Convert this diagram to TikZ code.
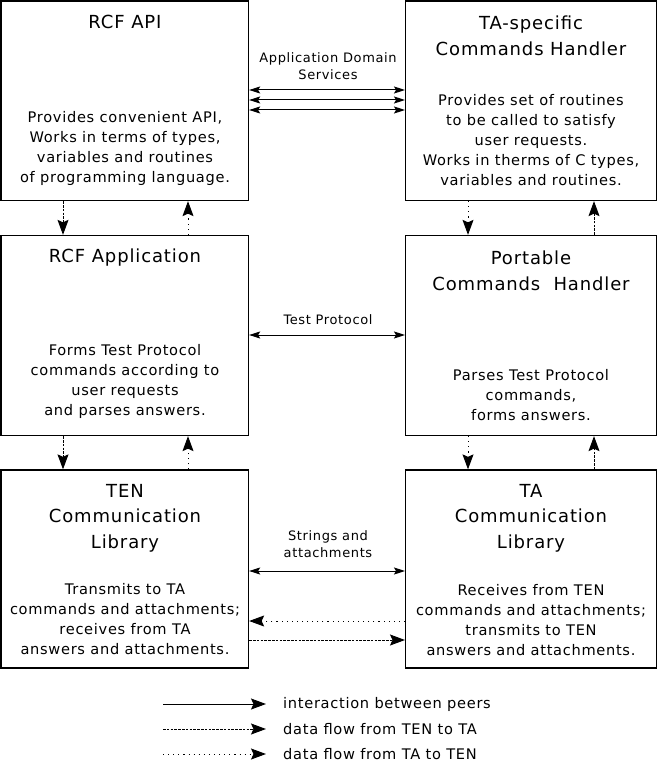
\documentclass[tikz,border=0pt]{standalone}
\usepackage{fontspec}
\setmainfont{DejaVu Sans}[LetterSpace=4.8]
\usetikzlibrary{arrows.meta}
\tikzset{
  box/.style={draw, line width=1.3pt, minimum width=248pt, minimum height=200pt, inner sep=0pt},
  ttl/.style={align=center, font=\fontsize{18}{25.5}\selectfont, inner sep=0pt},
  bdy/.style={align=center, font=\fontsize{14.6}{20}\selectfont, inner sep=0pt},
  lbl/.style={align=center, font=\fontsize{13}{16.5}\selectfont, inner sep=0pt},
  leg/.style={anchor=west, font=\fontsize{14.6}{17}\selectfont, inner sep=0pt},
  tip/.style={-{Stealth[length=15pt,width=11pt,inset=2.5pt]}},
  tipb/.style={{Stealth[length=11pt,width=7pt,inset=2pt]}-{Stealth[length=11pt,width=7pt,inset=2pt]}},
  peer/.style={line width=1pt, tipb},
  tenta/.style={line width=1pt, dash pattern=on 2.6pt off 1.2pt, tip},
  taten/.style={line width=1pt, dash pattern=on 1.1pt off 4pt, tip},
}
\begin{document}
\begin{tikzpicture}[x=1pt,y=-1pt]
\useasboundingbox (0,0) rectangle (657,762);
% boxes
\node[box, minimum width=247.5pt, minimum height=199.5pt] (api) at (124.75,100.75) {};
\node[box, minimum width=250.5pt, minimum height=199.5pt] (tah) at (530.9,100.75) {};
\node[box, minimum width=247.5pt, minimum height=200pt] (app) at (124.75,335.5) {};
\node[box, minimum width=250.5pt, minimum height=200pt] (pch) at (530.9,335.5) {};
\node[box, minimum width=247.5pt, minimum height=198pt] (ten) at (124.75,569) {};
\node[box, minimum width=250.5pt, minimum height=198pt] (tal) at (530.9,569) {};
% texts
\node[ttl] (t1) at (125,22) {RCF API};
\node[bdy] (b1) at (125,148.5) {Provides convenient API,\\Works in terms of types,\\variables and routines\\of programming language.};
\node[ttl] (t2) at (531,36) {TA-specific\\Commands Handler};
\node[bdy] (b2) at (531,140) {Provides set of routines\\to be called to satisfy\\user requests.\\Works in therms of C types,\\variables and routines.};
\node[ttl] (t3) at (125,258) {RCF Application};
\node[bdy] (b3) at (125,381.5) {Forms Test Protocol\\commands according to\\user requests\\and parses answers.};
\node[ttl] (t4) at (531,271) {Portable\\Commands\ \ Handler};
\node[bdy] (b4) at (531,395) {Parses Test Protocol\\commands,\\forms answers.};
\node[ttl] (t5) at (125,518) {TEN\\Communication\\Library};
\node[bdy] (b5) at (125,619) {Transmits to TA\\commands and attachments;\\receives from TA\\answers and attachments.};
\node[ttl] (t6) at (531,518) {TA\\Communication\\Library};
\node[bdy] (b6) at (531,620) {Receives from TEN\\commands and attachments;\\transmits to TEN\\answers and attachments.};
% middle labels
\node[lbl] (l1) at (328,66) {Application Domain\\Services};
\node[lbl] (l2) at (328,320) {Test Protocol};
\node[lbl] (l3) at (328,544) {Strings and\\attachments};
% coordinates
\coordinate (xa) at (63,0);
\coordinate (xb) at (188,0);
\coordinate (xc) at (468,0);
\coordinate (xd) at (594,0);
\coordinate (y1) at (0,90);
\coordinate (y2) at (0,100);
\coordinate (y3) at (0,110);
\coordinate (y4) at (0,335);
\coordinate (y5) at (0,571);
\coordinate (y6) at (0,621);
\coordinate (y7) at (0,640);
% peer arrows
\draw[peer] (api.east |- y1) -- (tah.west |- y1);
\draw[peer] (api.east |- y2) -- (tah.west |- y2);
\draw[peer] (api.east |- y3) -- (tah.west |- y3);
\draw[peer] (app.east |- y4) -- (pch.west |- y4);
\draw[peer] (ten.east |- y5) -- (tal.west |- y5);
\draw[taten] (tal.west |- y6) -- (ten.east |- y6);
\draw[tenta] (ten.east |- y7) -- (tal.west |- y7);
% vertical arrows
\draw[tenta] (api.south -| xa) -- (app.north -| xa);
\draw[taten] (app.north -| xb) -- (api.south -| xb);
\draw[tenta] (app.south -| xa) -- (ten.north -| xa);
\draw[taten] (ten.north -| xb) -- (app.south -| xb);
\draw[taten] (tah.south -| xc) -- (pch.north -| xc);
\draw[tenta] (pch.north -| xd) -- (tah.south -| xd);
\draw[taten] (pch.south -| xc) -- (tal.north -| xc);
\draw[tenta] (tal.north -| xd) -- (pch.south -| xd);
% legend
\coordinate (g1) at (163,704);
\coordinate (h1) at (266,704);
\coordinate (g2) at (163,729);
\coordinate (h2) at (266,729);
\coordinate (g3) at (163,754);
\coordinate (h3) at (266,754);
\draw[line width=1pt, tip] (g1) -- (h1);
\draw[tenta] (g2) -- (h2);
\draw[taten] (g3) -- (h3);
\node[leg] (n1) at (283,704) {interaction between peers};
\node[leg] (n2) at (283,729) {data flow from TEN to TA};
\node[leg] (n3) at (283,754) {data flow from TA to TEN};
\end{tikzpicture}
\end{document}
